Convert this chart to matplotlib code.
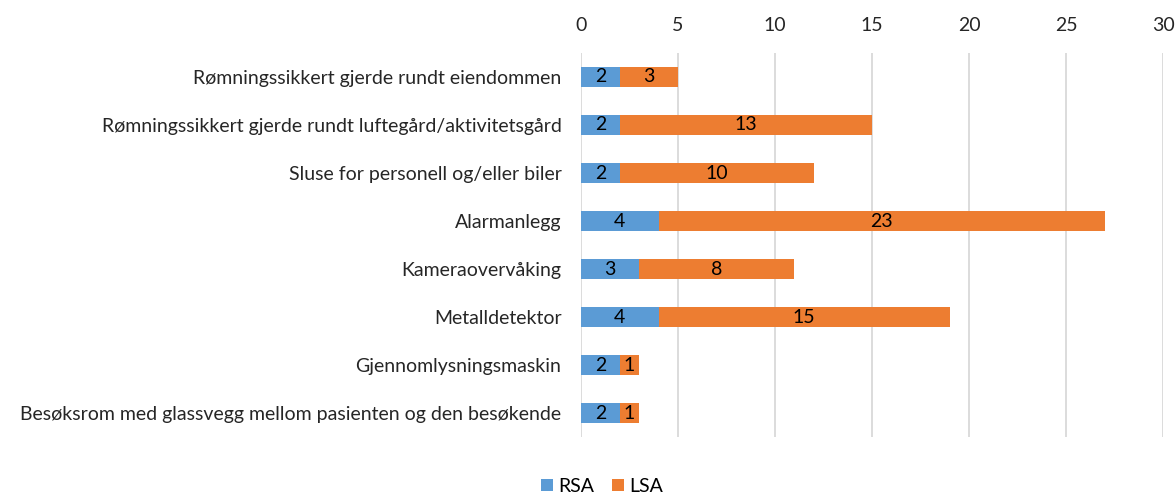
import matplotlib
matplotlib.use("Agg")
import matplotlib.pyplot as plt
import numpy as np

categories = [
    "Rømningssikkert gjerde rundt eiendommen",
    "Rømningssikkert gjerde rundt luftegård/aktivitetsgård",
    "Sluse for personell og/eller biler",
    "Alarmanlegg",
    "Kameraovervåking",
    "Metalldetektor",
    "Gjennomlysningsmaskin",
    "Besøksrom med glassvegg mellom pasienten og den besøkende",
]
rsa = [2, 2, 2, 4, 3, 4, 2, 2]
lsa = [3, 13, 10, 23, 8, 15, 1, 1]
xticks = [0, 5, 10, 15, 20, 25, 30]

plt.rcParams['font.family'] = ['Lato', 'DejaVu Sans']
FS = 14

fig = plt.figure(figsize=(11.76, 4.95), dpi=100)
ax = fig.add_axes([0.494, 0.117, 0.495, 0.776])

y = np.arange(len(categories))
h = 0.4
b1 = ax.barh(y, rsa, height=h, color='#5B9BD5', label='RSA')
b2 = ax.barh(y, lsa, left=rsa, height=h, color='#ED7D31', label='LSA')
for bars, vals, lefts in [(b1, rsa, [0]*len(rsa)), (b2, lsa, rsa)]:
    for yi, v, l in zip(y, vals, lefts):
        ax.text(l + v / 2, yi, str(v), ha='center', va='center', fontsize=FS, color='#000000')

ax.set_xlim(0, 30)
ax.set_ylim(len(categories) - 0.5, -0.5)
ax.set_yticks(y)
ax.set_yticklabels(categories, fontsize=FS, color='#262626')
ax.set_xticks(xticks)
ax.set_xticklabels([str(t) for t in xticks], fontsize=FS, color='#262626')
ax.xaxis.tick_top()
ax.tick_params(axis='both', length=0)
ax.tick_params(axis='x', pad=14)
ax.tick_params(axis='y', pad=14)
ax.grid(axis='x', color='#D9D9D9', linewidth=1.3)
ax.set_axisbelow(True)
for s in ax.spines.values():
    s.set_visible(False)

fig.legend(handles=[b1, b2], labels=['RSA', 'LSA'], loc='center', bbox_to_anchor=(0.512, 0.018),
           ncol=2, frameon=False, fontsize=FS, handlelength=0.6, handleheight=0.6,
           handletextpad=0.3, columnspacing=0.9)

fig.savefig("out.png", dpi=100)
